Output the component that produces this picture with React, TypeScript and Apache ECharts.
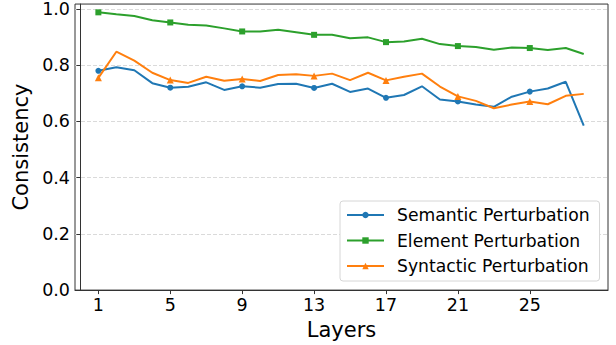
import React, { useEffect, useRef } from "react";
import * as echarts from "echarts";

const layers = Array.from({ length: 28 }, (_, i) => i + 1);
const semantic = [0.780, 0.793, 0.782, 0.736, 0.720, 0.723, 0.739, 0.712, 0.725, 0.720, 0.733, 0.734, 0.719, 0.734, 0.705, 0.717, 0.684, 0.694, 0.725, 0.678, 0.671, 0.660, 0.652, 0.688, 0.706, 0.717, 0.741, 0.585];
const element = [0.988, 0.981, 0.975, 0.960, 0.952, 0.944, 0.941, 0.931, 0.920, 0.920, 0.926, 0.917, 0.908, 0.908, 0.896, 0.899, 0.882, 0.884, 0.894, 0.875, 0.868, 0.865, 0.855, 0.863, 0.861, 0.854, 0.861, 0.840];
const syntactic = [0.755, 0.848, 0.816, 0.773, 0.747, 0.737, 0.759, 0.745, 0.751, 0.744, 0.765, 0.768, 0.762, 0.770, 0.747, 0.773, 0.746, 0.759, 0.770, 0.724, 0.689, 0.673, 0.647, 0.660, 0.671, 0.661, 0.691, 0.698];
const xTicks = [1, 5, 9, 13, 17, 21, 25];
const yTicks = [0, 0.2, 0.4, 0.6, 0.8, 1.0];

const FONT = "DejaVu Sans";

export default function App() {
  const ref = useRef<HTMLDivElement>(null);
  useEffect(() => {
    const chart = echarts.init(ref.current!, null, { renderer: "svg" });
    const mk = (name: string, vals: number[], color: string, symbol: string, size: number) => ({
      name,
      type: "line",
      data: vals.map((v, i) => [layers[i], v]),
      symbol,
      symbolSize: (_v: any, p: any) => (p.dataIndex % 4 === 0 ? size : 0),
      showAllSymbol: true,
      lineStyle: { color, width: 2 },
      itemStyle: { color },
      emphasis: { disabled: true },
    });
    chart.setOption({
      animation: false,
      grid: { left: 75, right: 8, top: 2, bottom: 53, show: true, borderColor: "#333", borderWidth: 1, backgroundColor: "transparent" },
      xAxis: {
        type: "value",
        min: -0.3,
        max: 29.35,
        name: "Layers",
        nameLocation: "middle",
        nameGap: 20,
        nameTextStyle: { fontFamily: FONT, fontSize: 21, color: "#000" },
        axisLine: { show: true, lineStyle: { color: "#333" } },
        axisTick: { show: true, length: 4, customValues: xTicks, lineStyle: { color: "#333" } },
        axisLabel: { customValues: xTicks, fontFamily: FONT, fontSize: 17.5, color: "#000", margin: 6 },
        splitLine: { show: false },
      },
      yAxis: {
        type: "value",
        min: 0,
        max: 1.0175,
        name: "Consistency",
        nameLocation: "middle",
        nameGap: 42,
        nameTextStyle: { fontFamily: FONT, fontSize: 21, color: "#000" },
        axisLine: { show: true, lineStyle: { color: "#333" } },
        axisTick: { show: true, length: 4, customValues: yTicks, lineStyle: { color: "#333" } },
        axisLabel: { customValues: yTicks, fontFamily: FONT, fontSize: 17.5, color: "#000", margin: 5, formatter: (v: number) => v.toFixed(1) },
        splitLine: { show: true, lineStyle: { color: "#d0d0d0", type: [4, 2], width: 0.8 } },
      },
      legend: {
        orient: "vertical",
        left: 340,
        top: 201,
        padding: [5, 10, 6, 6],
        itemWidth: 37,
        itemHeight: 8,
        itemGap: 7.5,
        backgroundColor: "#fff",
        borderColor: "#d6d6d6",
        borderWidth: 1,
        borderRadius: 3,
        textStyle: { fontFamily: FONT, fontSize: 17.2, color: "#000", lineHeight: 18, padding: [0, 0, 0, 8] },
        data: ["Semantic Perturbation", "Element Perturbation", "Syntactic Perturbation"],
      },
      series: [
        mk("Semantic Perturbation", semantic, "#1f77b4", "circle", 6),
        mk("Element Perturbation", element, "#2ca02c", "rect", 6),
        mk("Syntactic Perturbation", syntactic, "#ff7f0e", "triangle", 7),
      ],
    });
    return () => chart.dispose();
  }, []);
  return <div ref={ref} style={{ width: 616, height: 345, position: "absolute", left: 0, top: 0 }} />;
}
